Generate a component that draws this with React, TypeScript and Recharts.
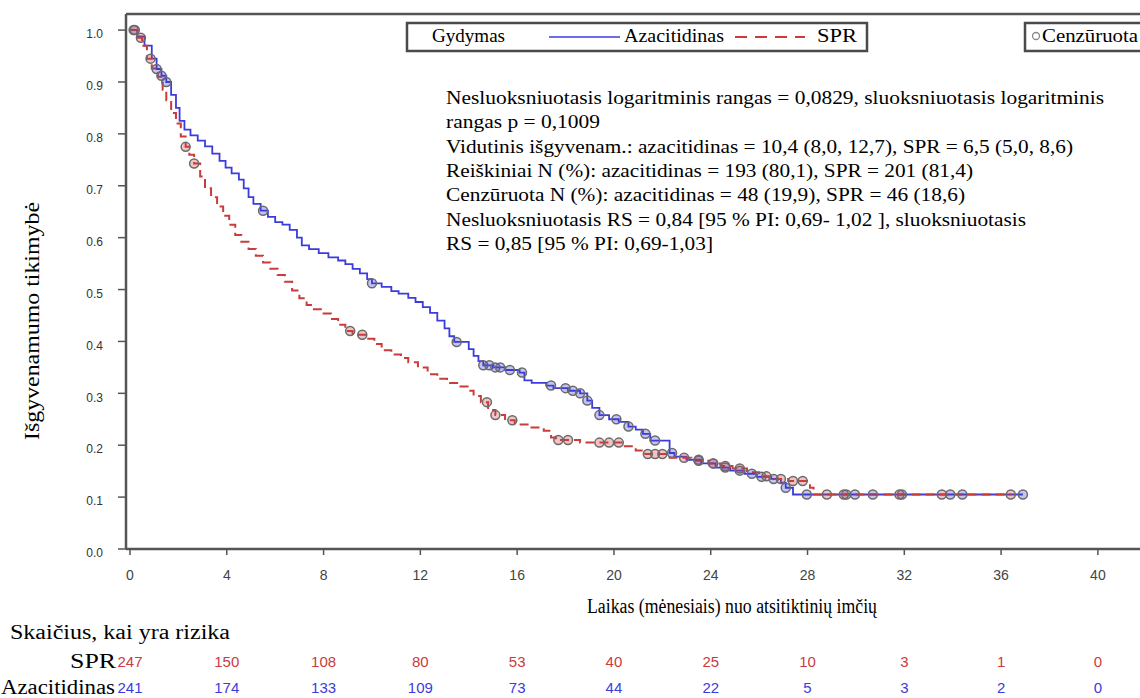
import React from 'react';
import { ComposedChart, Line, Scatter, XAxis, YAxis, ReferenceLine } from 'recharts';

// ---- axis ticks ----
const xTicks = [0, 4, 8, 12, 16, 20, 24, 28, 32, 36, 40];
const yTicks = [0, 0.1, 0.2, 0.3, 0.4, 0.5, 0.6, 0.7, 0.8, 0.9, 1.0];

// ---- numbers at risk ----
const sprAtRisk = [247, 150, 108, 80, 53, 40, 25, 10, 3, 1, 0];
const azaAtRisk = [241, 174, 133, 109, 73, 44, 22, 5, 3, 2, 0];

// ---- Kaplan-Meier estimates [month, survival] ----
const azacitidinasKM: [number, number][] = [
  [0, 1.0], [0.3, 0.988], [0.6, 0.97], [0.9, 0.945], [1.1, 0.925], [1.3, 0.912], [1.5, 0.9],
  [1.7, 0.875], [1.9, 0.85], [2.05, 0.825], [2.25, 0.808], [2.5, 0.797], [2.8, 0.787],
  [3.1, 0.776], [3.4, 0.762], [3.7, 0.748], [3.95, 0.735], [4.2, 0.724], [4.5, 0.712],
  [4.7, 0.695], [4.9, 0.678], [5.1, 0.665], [5.4, 0.652], [5.7, 0.64], [6.0, 0.63],
  [6.3, 0.625], [6.6, 0.615], [6.9, 0.6], [7.1, 0.585], [7.4, 0.578], [7.8, 0.57],
  [8.2, 0.562], [8.6, 0.556], [8.9, 0.549], [9.2, 0.54], [9.5, 0.531], [9.8, 0.52],
  [10.0, 0.512], [10.4, 0.505], [10.8, 0.497], [11.1, 0.492], [11.5, 0.484], [11.8, 0.476],
  [12.1, 0.466], [12.4, 0.455], [12.7, 0.44], [13.0, 0.425], [13.2, 0.41], [13.4, 0.399],
  [14.0, 0.385], [14.2, 0.372], [14.4, 0.362], [14.6, 0.354], [15.0, 0.35], [15.5, 0.345],
  [16.1, 0.34], [16.3, 0.325], [16.6, 0.32], [17.2, 0.315], [17.5, 0.31], [18.1, 0.305],
  [18.6, 0.3], [18.9, 0.286], [19.1, 0.272], [19.4, 0.258], [19.8, 0.25], [20.2, 0.245],
  [20.6, 0.236], [20.9, 0.23], [21.2, 0.222], [21.5, 0.209], [22.3, 0.185], [22.5, 0.178],
  [23.0, 0.172], [23.6, 0.165], [24.2, 0.157], [24.8, 0.151], [25.4, 0.145], [25.9, 0.139],
  [26.5, 0.135], [26.9, 0.128], [27.1, 0.118], [27.4, 0.105], [36.9, 0.105],
];

const sprKM: [number, number][] = [
  [0, 1.0], [0.3, 0.985], [0.5, 0.97], [0.7, 0.945], [0.9, 0.926], [1.15, 0.91], [1.35, 0.885],
  [1.5, 0.865], [1.7, 0.84], [1.9, 0.82], [2.1, 0.795], [2.3, 0.775], [2.45, 0.76],
  [2.65, 0.743], [2.9, 0.718], [3.1, 0.695], [3.35, 0.678], [3.6, 0.66], [3.85, 0.642],
  [4.1, 0.625], [4.35, 0.605], [4.6, 0.592], [4.9, 0.578], [5.2, 0.565], [5.5, 0.552],
  [5.8, 0.54], [6.1, 0.528], [6.4, 0.515], [6.7, 0.498], [7.0, 0.483], [7.3, 0.47],
  [7.6, 0.462], [7.95, 0.454], [8.3, 0.443], [8.6, 0.432], [8.9, 0.42], [9.2, 0.413],
  [9.8, 0.405], [10.1, 0.395], [10.4, 0.383], [10.8, 0.375], [11.2, 0.368], [11.5, 0.36],
  [11.9, 0.35], [12.3, 0.337], [12.7, 0.328], [13.1, 0.32], [13.6, 0.313], [13.95, 0.305],
  [14.2, 0.295], [14.5, 0.283], [14.8, 0.268], [15.1, 0.258], [15.5, 0.248], [15.9, 0.24],
  [16.5, 0.234], [17.1, 0.228], [17.4, 0.215], [17.6, 0.21], [18.6, 0.205], [20.4, 0.198],
  [20.9, 0.19], [21.3, 0.183], [22.3, 0.176], [23.2, 0.17], [23.9, 0.165], [24.4, 0.16],
  [24.9, 0.155], [25.5, 0.148], [26.0, 0.14], [26.6, 0.135], [27.2, 0.131], [28.1, 0.118],
  [28.25, 0.105], [36.4, 0.105],
];

// ---- censoring times (months) ----
const azaCensored = [
  0.15, 1.1, 1.3, 1.5, 5.5, 10.0, 13.5, 14.6, 14.85, 15.1, 15.3, 15.7, 16.2, 17.4, 18.0,
  18.3, 18.6, 18.9, 19.4, 20.1, 20.6, 21.3, 21.7, 22.4, 23.5, 24.1, 24.6, 25.2, 25.7, 26.1,
  26.6, 27.1, 27.97, 29.6, 29.96, 30.7, 31.9, 33.9, 34.4, 36.9,
];
const sprCensored = [
  0.2, 0.45, 0.85, 2.3, 2.65, 9.1, 9.6, 14.75, 15.1, 15.8, 17.7, 18.1, 19.4, 19.8, 20.2,
  21.4, 21.7, 22.0, 22.9, 23.5, 24.1, 24.6, 25.2, 26.3, 26.9, 27.4, 27.8, 28.8, 29.5, 31.8,
  33.55, 36.4,
];

const BLUE = '#3c3cdc';
const RED = '#cc3b3b';
const AXIS = '#555';
const Y_MAX = 1.031;
const X_MIN = -0.165;
const X_MAX = 41.74;

const toRows = (km: [number, number][]) => km.map(([t, s]) => ({ t, s }));
const survAt = (km: [number, number][], t: number) => {
  let s = km[0][1];
  for (const [ti, si] of km) {
    if (ti <= t) s = si;
    else break;
  }
  return s;
};
const censorRows = (times: number[], km: [number, number][]) =>
  times.map((t) => ({ t, s: survAt(km, t) }));

const azaRows = toRows(azacitidinasKM);
const sprRows = toRows(sprKM);
const azaCensRows = censorRows(azaCensored, azacitidinasKM);
const sprCensRows = censorRows(sprCensored, sprKM);

const SANS = "'Liberation Sans', Arial, sans-serif";
const SERIF = "'Liberation Serif', 'Times New Roman', serif";

const makeCensorShape = (color: string) => (props: any) => {
  const { cx, cy } = props;
  if (cx == null || cy == null) return <g />;
  return (
    <g>
      <circle cx={cx} cy={cy} r={4.5} fill={color} fillOpacity={0.3} stroke="#6a6a6a" strokeWidth={1.5} />
    </g>
  );
};

const XTick = (props: any) => {
  const { x, y, payload } = props;
  const i = xTicks.indexOf(payload.value);
  return (
    <g>
      <text x={x} y={y + 23} textAnchor="middle" fontFamily={SANS} fontSize={14} fill="#444">
        {payload.value}
      </text>
      <text x={x} y={y + 110} textAnchor="middle" fontFamily={SANS} fontSize={15} fill={RED}>
        {sprAtRisk[i]}
      </text>
      <text x={x} y={y + 136} textAnchor="middle" fontFamily={SANS} fontSize={15} fill={BLUE}>
        {azaAtRisk[i]}
      </text>
    </g>
  );
};

const annotationLines = [
  'Nesluoksniuotasis logaritminis rangas = 0,0829, sluoksniuotasis logaritminis',
  'rangas p = 0,1009',
  'Vidutinis išgyvenam.: azacitidinas = 10,4 (8,0, 12,7), SPR = 6,5 (5,0, 8,6)',
  'Reiškiniai N (%): azacitidinas = 193 (80,1), SPR = 201 (81,4)',
  'Cenzūruota N (%): azacitidinas = 48 (19,9), SPR = 46 (18,6)',
  'Nesluoksniuotasis RS = 0,84 [95 % PI: 0,69- 1,02 ], sluoksniuotasis',
  'RS = 0,85 [95 % PI: 0,69-1,03]',
];
const annotationWidths = [658, 154, 627, 527, 519, 580, 267];

export default function App() {
  return (
    <div style={{ position: 'absolute', left: 0, top: 0, width: 1140, height: 698, background: '#fff' }}>
      <ComposedChart
        width={1140}
        height={698}
        margin={{ top: 14, right: 0, left: 0, bottom: 9 }}
      >
        <XAxis
          dataKey="t"
          type="number"
          domain={[X_MIN, X_MAX]}
          ticks={xTicks}
          allowDataOverflow
          height={140}
          axisLine={{ stroke: AXIS, strokeWidth: 2.5 }}
          tickLine={{ stroke: AXIS, strokeWidth: 1.5 }}
          tickSize={6}
          tickMargin={2}
          tick={<XTick />}
          interval={0}
        />
        <YAxis
          type="number"
          domain={[0, Y_MAX]}
          ticks={yTicks}
          allowDataOverflow
          width={126}
          axisLine={{ stroke: AXIS, strokeWidth: 2.5 }}
          tickLine={{ stroke: AXIS, strokeWidth: 1.5 }}
          tickSize={8}
          tickMargin={15}
          tickFormatter={(v: number) => v.toFixed(1)}
          tick={{ fontSize: 12, fill: '#333', fontFamily: SANS, dy: 4 }}
          interval={0}
        />
        <ReferenceLine y={Y_MAX} stroke={AXIS} strokeWidth={2.5} ifOverflow="visible" />
        <Line
          data={azaRows}
          dataKey="s"
          type="stepAfter"
          stroke={BLUE}
          strokeWidth={1.8}
          dot={false}
          activeDot={false}
          isAnimationActive={false}
        />
        <Line
          data={sprRows}
          dataKey="s"
          type="stepAfter"
          stroke={RED}
          strokeWidth={2}
          strokeDasharray="9 5"
          dot={false}
          activeDot={false}
          isAnimationActive={false}
        />
        <Scatter data={azaCensRows} dataKey="s" shape={makeCensorShape(BLUE)} isAnimationActive={false} />
        <Scatter data={sprCensRows} dataKey="s" shape={makeCensorShape(RED)} isAnimationActive={false} />
      </ComposedChart>

      <svg
        width={1140}
        height={698}
        style={{ position: 'absolute', left: 0, top: 0, pointerEvents: 'none' }}
      >
        {/* treatment legend */}
        <rect x={407} y={23} width={460} height={28} fill="#fff" stroke="#4a4a4a" strokeWidth={2.5} />
        <text x={432} y={42} fontFamily={SERIF} fontSize={18} fill="#000" textLength={73} lengthAdjust="spacingAndGlyphs">Gydymas</text>
        <line x1={549} y1={37} x2={620} y2={37} stroke={BLUE} strokeWidth={1.5} />
        <text x={624} y={42} fontFamily={SERIF} fontSize={18} fill="#000" textLength={100} lengthAdjust="spacingAndGlyphs">Azacitidinas</text>
        <line x1={735} y1={37} x2={805} y2={37} stroke={RED} strokeWidth={2} strokeDasharray="12 8" />
        <text x={817} y={42} fontFamily={SERIF} fontSize={18} fill="#000" textLength={40} lengthAdjust="spacingAndGlyphs">SPR</text>

        {/* censored legend */}
        <rect x={1025} y={23} width={120} height={28} fill="#fff" stroke="#4a4a4a" strokeWidth={2.5} />
        <circle cx={1036} cy={36} r={3.5} fill="none" stroke="#888" strokeWidth={1.3} />
        <text x={1042} y={42} fontFamily={SERIF} fontSize={18} fill="#000" textLength={96} lengthAdjust="spacingAndGlyphs">Cenzūruota</text>

        {/* statistics */}
        {annotationLines.map((line, i) => (
          <text
            key={i}
            x={446}
            y={104 + i * 24.3}
            fontFamily={SERIF}
            fontSize={19}
            fill="#000"
            textLength={annotationWidths[i]}
            lengthAdjust="spacingAndGlyphs"
          >
            {line}
          </text>
        ))}

        {/* axis titles */}
        <text
          x={39}
          y={321}
          transform="rotate(-90 39 321)"
          textAnchor="middle"
          fontFamily={SERIF}
          fontSize={20}
          fill="#000"
          textLength={238}
          lengthAdjust="spacingAndGlyphs"
        >
          Išgyvenamumo tikimybė
        </text>
        <text x={587} y={613} fontFamily={SERIF} fontSize={20} fill="#000" textLength={290} lengthAdjust="spacingAndGlyphs">
          Laikas (mėnesiais) nuo atsitiktinių imčių
        </text>

        {/* risk table labels */}
        <text x={10} y={639} fontFamily={SERIF} fontSize={20} fill="#000" textLength={220} lengthAdjust="spacingAndGlyphs">
          Skaičius, kai yra rizika
        </text>
        <text x={70} y={668} fontFamily={SERIF} fontSize={20} fill="#000" textLength={46} lengthAdjust="spacingAndGlyphs">SPR</text>
        <text x={1} y={694} fontFamily={SERIF} fontSize={20} fill="#000" textLength={114} lengthAdjust="spacingAndGlyphs">Azacitidinas</text>
      </svg>
    </div>
  );
}
